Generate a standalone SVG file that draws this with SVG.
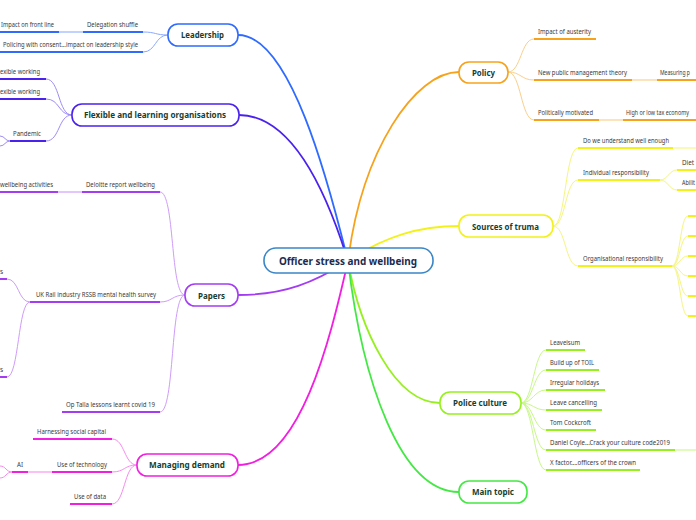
<svg xmlns="http://www.w3.org/2000/svg" width="696" height="520" viewBox="0 0 696 520">
<style>
.box{fill:#fff;stroke-width:1.6}
.mt{font-family:"Noto Sans","Open Sans",sans-serif;font-weight:bold;font-size:9px;fill:#163f33}
.ct{font-family:"Noto Sans","Open Sans",sans-serif;font-weight:bold;font-size:11px;fill:#1c2b50}
.st{font-family:"Noto Sans","Open Sans",sans-serif;font-size:6.5px;fill:#3a3a3a}
.ul{fill:none;stroke-width:2}
.lk{fill:none;stroke-width:1}
.mc{fill:none;stroke-width:1.8}
.b1{stroke:#2f6bff}.b1l{stroke:#8aa8ff}.b1f{stroke:#c2d2ff}
.b2{stroke:#4a22ee}.b2l{stroke:#9f8cf7}
.b3{stroke:#a43cf2}.b3l{stroke:#cf9cf8}.b3f{stroke:#e3c6fb}
.b4{stroke:#f21ee0}.b4l{stroke:#f78cee}.b4f{stroke:#fbc0f5}
.b5{stroke:#f7a21b}.b5l{stroke:#fbcf8a}.b5f{stroke:#fde3bb}
.b6{stroke:#f2f21a}.b6l{stroke:#f5f580}.b6f{stroke:#fafab8}
.b7{stroke:#96f01e}.b7l{stroke:#c8f78a}.b7f{stroke:#e0fbbb}
.b8{stroke:#44e844}
</style>
<g id="connectors">
<path class="mc b1" d="M238,35 C290,35 328,180 348,261"/>
<path class="mc b2" d="M239,115 C292,115 326,190 348,261"/>
<path class="mc b3" d="M238,295 C285,295 315,282 348,261"/>
<path class="mc b4" d="M238,465 C300,465 330,340 348,261"/>
<path class="mc b5" d="M459,72 C415,72 362,150 348,261"/>
<path class="mc b6" d="M459,226 C420,226 385,236 348,261"/>
<path class="mc b7" d="M440,403 C395,403 360,330 348,261"/>
<path class="mc b8" d="M459,492 C400,492 362,380 348,261"/>
<path class="lk b1l" d="M168,35 C155,35 156,32 143,32 M168,35 C155,35 156,52 143,52"/>
<path class="ul b1f" d="M59,32 H83"/>
<path class="lk b2l" d="M72,115 C58,115 60,79 46,79 M72,115 C58,115 60,99 46,99 M72,115 C58,115 60,141 46,141 M10,141 C5,141 5,136 0,136 M10,141 C5,141 5,146 0,146"/>
<path class="lk b3l" d="M185,295 C170,295 175,192 160,192 M185,295 C172,295 172,302 160,302 M185,295 C170,295 175,412 160,412 M30,302 C18,302 19,279 7,279 M30,302 C18,302 19,377 7,377"/>
<path class="ul b3f" d="M58,192 H82"/>
<path class="lk b4l" d="M137,465 C124,465 125,439 112,439 M137,465 C124,465 125,472 112,472 M137,465 C124,465 125,504 112,504 M12,472 C6,472 6,466 0,466 M12,472 C6,472 6,478 0,478"/>
<path class="ul b4f" d="M28,472 H52"/>
<path class="lk b5l" d="M508,72 C521,72 521,39 534,39 M508,72 C521,72 521,80 534,80 M508,72 C521,72 521,120 534,120"/>
<path class="ul b5f" d="M632,80 H657 M599,120 H623"/>
<path class="lk b6l" d="M553,226 C566,226 565,148 578,148 M553,226 C566,226 565,180 578,180 M553,226 C566,226 565,266 578,266 M660,180 C668,180 669,170 677,170 M660,180 C668,180 669,190 677,190 M672,266 C680,266 680,216 688,216 M672,266 C680,266 680,236 688,236 M672,266 C680,266 680,256 688,256 M672,266 C680,266 680,276 688,276 M672,266 C680,266 680,296 688,296 M672,266 C680,266 680,316 688,316"/>
<path class="ul b6f" d="M673,148 H696"/>
<path class="lk b7l" d="M521,403 C533,403 534,350 546,350 M521,403 C533,403 534,370 546,370 M521,403 C533,403 534,390 546,390 M521,403 C533,403 534,410 546,410 M521,403 C533,403 534,430 546,430 M521,403 C533,403 534,450 546,450 M521,403 C533,403 534,470 546,470"/>
<path class="ul b7f" d="M675,450 H696"/>
</g>
<g id="center"><rect class="box" x="264" y="248" width="169" height="25" rx="12" stroke="#3b86c6"/><text class="ct" x="279" y="265" textLength="138" lengthAdjust="spacingAndGlyphs">Officer stress and wellbeing</text></g>
<g id="leadership"><rect class="box b1" x="168" y="24" width="70" height="22" rx="10"/><text class="mt" x="181" y="38" textLength="43" lengthAdjust="spacingAndGlyphs">Leadership</text></g>
<g id="delegation"><path class="ul b1" d="M83,32 H143"/><text class="st" x="87" y="27" textLength="51" lengthAdjust="spacingAndGlyphs">Delegation shuffle</text></g>
<g id="impact-front"><path class="ul b1" d="M0,32 H59"/><text class="st" x="1" y="27" textLength="53" lengthAdjust="spacingAndGlyphs">Impact on front line</text></g>
<g id="policing"><path class="ul b1" d="M0,52 H143"/><text class="st" x="3" y="47" textLength="135" lengthAdjust="spacingAndGlyphs">Policing with consent...impact on leadership style</text></g>
<g id="flexible"><rect class="box b2" x="72" y="104" width="167" height="22" rx="10"/><text class="mt" x="84" y="118" textLength="142" lengthAdjust="spacingAndGlyphs">Flexible and learning organisations</text></g>
<g id="flex1"><path class="ul b2" d="M0,79 H46"/><text class="st" x="0" y="74" textLength="40" lengthAdjust="spacingAndGlyphs">exible working</text></g>
<g id="flex2"><path class="ul b2" d="M0,99 H46"/><text class="st" x="0" y="94" textLength="40" lengthAdjust="spacingAndGlyphs">exible working</text></g>
<g id="pandemic"><path class="ul b2" d="M10,141 H46"/><text class="st" x="13" y="136" textLength="28" lengthAdjust="spacingAndGlyphs">Pandemic</text></g>
<g id="papers"><rect class="box b3" x="185" y="284" width="53" height="22" rx="10"/><text class="mt" x="198" y="299" textLength="27" lengthAdjust="spacingAndGlyphs">Papers</text></g>
<g id="deloitte"><path class="ul b3" d="M82,192 H160"/><text class="st" x="86" y="187" textLength="69" lengthAdjust="spacingAndGlyphs">Deloitte report wellbeing</text></g>
<g id="wellbeing-act"><path class="ul b3" d="M0,192 H58"/><text class="st" x="0" y="187" textLength="53" lengthAdjust="spacingAndGlyphs">wellbeing activities</text></g>
<g id="rssb"><path class="ul b3" d="M30,302 H160"/><text class="st" x="36" y="297" textLength="120" lengthAdjust="spacingAndGlyphs">UK Rail industry RSSB mental health survey</text></g>
<g id="rssb1"><path class="ul b3" d="M0,279 H7"/><text class="st" x="0" y="274">s</text></g>
<g id="rssb2"><path class="ul b3" d="M0,377 H7"/><text class="st" x="0" y="372">s</text></g>
<g id="optalla"><path class="ul b3" d="M62,412 H160"/><text class="st" x="66" y="407" textLength="89" lengthAdjust="spacingAndGlyphs">Op Talla lessons  learnt covid 19</text></g>
<g id="managing"><rect class="box b4" x="137" y="454" width="101" height="22" rx="10"/><text class="mt" x="149" y="468" textLength="76" lengthAdjust="spacingAndGlyphs">Managing demand</text></g>
<g id="harnessing"><path class="ul b4" d="M33,439 H112"/><text class="st" x="37" y="434" textLength="69" lengthAdjust="spacingAndGlyphs">Harnessing social capital</text></g>
<g id="technology"><path class="ul b4" d="M52,472 H112"/><text class="st" x="57" y="467" textLength="50" lengthAdjust="spacingAndGlyphs">Use of technology</text></g>
<g id="ai"><path class="ul b4" d="M12,472 H28"/><text class="st" x="17" y="467" textLength="6" lengthAdjust="spacingAndGlyphs">AI</text></g>
<g id="data"><path class="ul b4" d="M70,504 H112"/><text class="st" x="74" y="499" textLength="32" lengthAdjust="spacingAndGlyphs">Use of data</text></g>
<g id="policy"><rect class="box b5" x="459" y="62" width="49" height="21" rx="10"/><text class="mt" x="472" y="76" textLength="23" lengthAdjust="spacingAndGlyphs">Policy</text></g>
<g id="austerity"><path class="ul b5" d="M534,39 H596"/><text class="st" x="538" y="34" textLength="53" lengthAdjust="spacingAndGlyphs">Impact of austerity</text></g>
<g id="npm"><path class="ul b5" d="M534,80 H632"/><text class="st" x="538" y="75" textLength="89" lengthAdjust="spacingAndGlyphs">New public management theory</text></g>
<g id="measuring"><path class="ul b5" d="M657,80 H696"/><text class="st" x="660" y="75" textLength="30" lengthAdjust="spacingAndGlyphs">Measuring p</text></g>
<g id="politically"><path class="ul b5" d="M534,120 H599"/><text class="st" x="538" y="115" textLength="55" lengthAdjust="spacingAndGlyphs">Politically motivated</text></g>
<g id="tax"><path class="ul b5" d="M623,120 H696"/><text class="st" x="626" y="115" textLength="63" lengthAdjust="spacingAndGlyphs">High or low tax economy</text></g>
<g id="sources"><rect class="box b6" x="459" y="215" width="94" height="22" rx="10"/><text class="mt" x="472" y="230" textLength="67" lengthAdjust="spacingAndGlyphs">Sources of truma</text></g>
<g id="understand"><path class="ul b6" d="M578,148 H673"/><text class="st" x="583" y="143" textLength="86" lengthAdjust="spacingAndGlyphs">Do we understand well enough</text></g>
<g id="individual"><path class="ul b6" d="M578,180 H660"/><text class="st" x="583" y="175" textLength="66" lengthAdjust="spacingAndGlyphs">Individual responsibility</text></g>
<g id="diet"><path class="ul b6" d="M677,170 H696"/><text class="st" x="682" y="165" textLength="12" lengthAdjust="spacingAndGlyphs">Diet</text></g>
<g id="abilit"><path class="ul b6" d="M677,190 H696"/><text class="st" x="682" y="185" textLength="13" lengthAdjust="spacingAndGlyphs">Abilit</text></g>
<g id="organisational"><path class="ul b6" d="M578,266 H672"/><text class="st" x="583" y="261" textLength="80" lengthAdjust="spacingAndGlyphs">Organisational responsibility</text></g>
<g id="org-kids"><path class="ul b6" d="M688,216 H696 M688,236 H696 M688,256 H696 M688,276 H696 M688,296 H696 M688,316 H696"/></g>
<g id="police"><rect class="box b7" x="440" y="392" width="81" height="22" rx="10"/><text class="mt" x="453" y="406" textLength="54" lengthAdjust="spacingAndGlyphs">Police culture</text></g>
<g id="leaveisum"><path class="ul b7" d="M546,350 H585"/><text class="st" x="550" y="345" textLength="30" lengthAdjust="spacingAndGlyphs">Leaveisum</text></g>
<g id="toil"><path class="ul b7" d="M546,370 H599"/><text class="st" x="550" y="365" textLength="44" lengthAdjust="spacingAndGlyphs">Build up of TOIL</text></g>
<g id="holidays"><path class="ul b7" d="M546,390 H605"/><text class="st" x="550" y="385" textLength="49" lengthAdjust="spacingAndGlyphs">Irregular holidays</text></g>
<g id="cancelling"><path class="ul b7" d="M546,410 H602"/><text class="st" x="550" y="405" textLength="47" lengthAdjust="spacingAndGlyphs">Leave cancelling</text></g>
<g id="cockcroft"><path class="ul b7" d="M546,430 H596"/><text class="st" x="550" y="425" textLength="41" lengthAdjust="spacingAndGlyphs">Tom Cockcroft</text></g>
<g id="coyle"><path class="ul b7" d="M546,450 H675"/><text class="st" x="550" y="445" textLength="120" lengthAdjust="spacingAndGlyphs">Daniel Coyle...Crack your culture code2019</text></g>
<g id="xfactor"><path class="ul b7" d="M546,470 H640"/><text class="st" x="550" y="465" textLength="86" lengthAdjust="spacingAndGlyphs">X factor....officers of the crown</text></g>
<g id="main-topic"><rect class="box b8" x="459" y="481" width="68" height="22" rx="10"/><text class="mt" x="472" y="495" textLength="42" lengthAdjust="spacingAndGlyphs">Main topic</text></g>
</svg>
